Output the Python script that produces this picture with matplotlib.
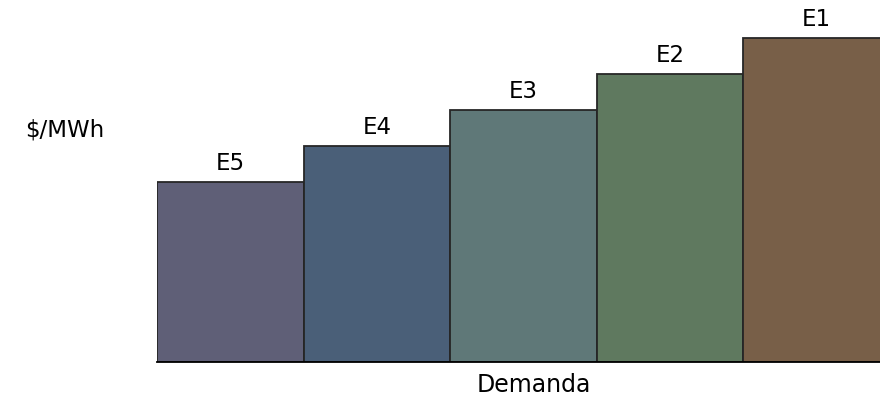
import matplotlib
matplotlib.use('Agg')
import matplotlib.pyplot as plt

# precios por bloque de energía (orden de despacho)
bloques = ['E5', 'E4', 'E3', 'E2', 'E1']
precios = [180, 216, 252, 288, 324]
colores = ['#5f5f77', '#4a5f78', '#5f7878', '#5f795f', '#785f48']

fig = plt.figure(figsize=(8.8, 3.96), dpi=100)
ax = fig.add_axes([157 / 880, 1 - 362 / 396, 1 - 157 / 880, 362 / 396])

x = range(len(bloques))
ax.bar(x, precios, width=1.0, color=colores, edgecolor='#262626', linewidth=1.3)

for xi, p, lab in zip(x, precios, bloques):
    ax.text(xi, p + 7, lab, ha='center', va='bottom', fontsize=16.5, color='black')

ax.set_xlim(-0.5, 4.435)
ax.set_ylim(0, 362)
ax.set_xticks([])
ax.set_yticks([])
for s in ['top', 'right', 'left']:
    ax.spines[s].set_visible(False)
ax.spines['bottom'].set_linewidth(1.3)
ax.spines['bottom'].set_color('black')

fig.text(65 / 880, 1 - 130 / 396, '$/MWh', ha='center', va='center', fontsize=16.5)
fig.text(534 / 880, 1 - 385 / 396, 'Demanda', ha='center', va='center', fontsize=17)

fig.savefig('out.png', dpi=100)
